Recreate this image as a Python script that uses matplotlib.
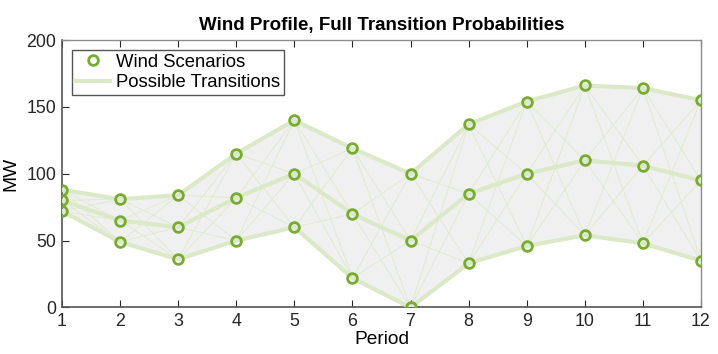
import matplotlib.pyplot as plt
import numpy as np

plt.rcParams['font.family'] = ['Liberation Sans', 'DejaVu Sans']

periods = list(range(1, 13))
wind_high = [88, 81, 84, 115, 140, 119, 100, 137, 154, 166, 164, 155]
wind_mid = [80, 65, 60, 82, 100, 70, 50, 85, 100, 110, 106, 95]
wind_low = [72, 49, 36, 50, 60, 22, 0, 33, 46, 54, 48, 35]

green = '#77ac30'
light_green = '#dce9c8'


def main():
    fig = plt.figure(figsize=(7.18, 3.54), dpi=100)
    ax = fig.add_axes([0.0864, 0.1314, 0.8899, 0.7556])

    scen = np.array([wind_high, wind_mid, wind_low])
    x = np.array(periods)

    # shaded envelope
    ax.fill_between(x, scen.min(axis=0), scen.max(axis=0), color='#f0f0f0', lw=0, zorder=1)

    # all transitions between consecutive periods
    for t in range(len(x) - 1):
        for a in range(3):
            for b in range(3):
                ax.plot([x[t], x[t + 1]], [scen[a, t], scen[b, t + 1]],
                        color=light_green, lw=0.7, alpha=0.8, zorder=2)

    # scenario paths
    for i in range(3):
        ax.plot(x, scen[i], color=light_green, lw=3, zorder=3,
                label='Possible Transitions' if i == 0 else None)
        ax.plot(x, scen[i], 'o', ms=7, mfc='none', mec=green, mew=2, zorder=4,
                label='Wind Scenarios' if i == 0 else None)

    ax.set_xlim(1, 12)
    ax.set_ylim(0, 200)
    ax.set_xticks(periods)
    ax.set_yticks([0, 50, 100, 150, 200])
    ax.tick_params(axis='both', direction='in', length=5, labelsize=12.8,
                   colors='#262626', width=0.8)
    ax.tick_params(axis='x', top=True, pad=4)
    ax.tick_params(axis='y', pad=4)
    for s in ['left', 'bottom']:
        ax.spines[s].set_color('#555555')
        ax.spines[s].set_linewidth(1.2)
    for s in ['top', 'right']:
        ax.spines[s].set_color('#8c8c8c')
        ax.spines[s].set_linewidth(1.0)

    ax.set_xlabel('Period', fontsize=13.8, labelpad=1)
    ax.set_ylabel('MW', fontsize=13.8, labelpad=5)
    ax.set_title('Wind Profile, Full Transition Probabilities', fontsize=13.5,
                 fontweight='bold', pad=7)

    h, l = ax.get_legend_handles_labels()
    order = [l.index('Wind Scenarios'), l.index('Possible Transitions')]
    leg = ax.legend([h[i] for i in order], [l[i] for i in order], loc='upper left',
                    fontsize=13.3, fancybox=False, framealpha=1, edgecolor='#555555',
                    borderpad=0.2, labelspacing=0.2, handlelength=1.9,
                    handletextpad=0.3, bbox_to_anchor=(0.015, 0.963), borderaxespad=0)
    leg.get_frame().set_linewidth(1.0)

    plt.savefig('out.png', dpi=100)


if __name__ == '__main__':
    main()
